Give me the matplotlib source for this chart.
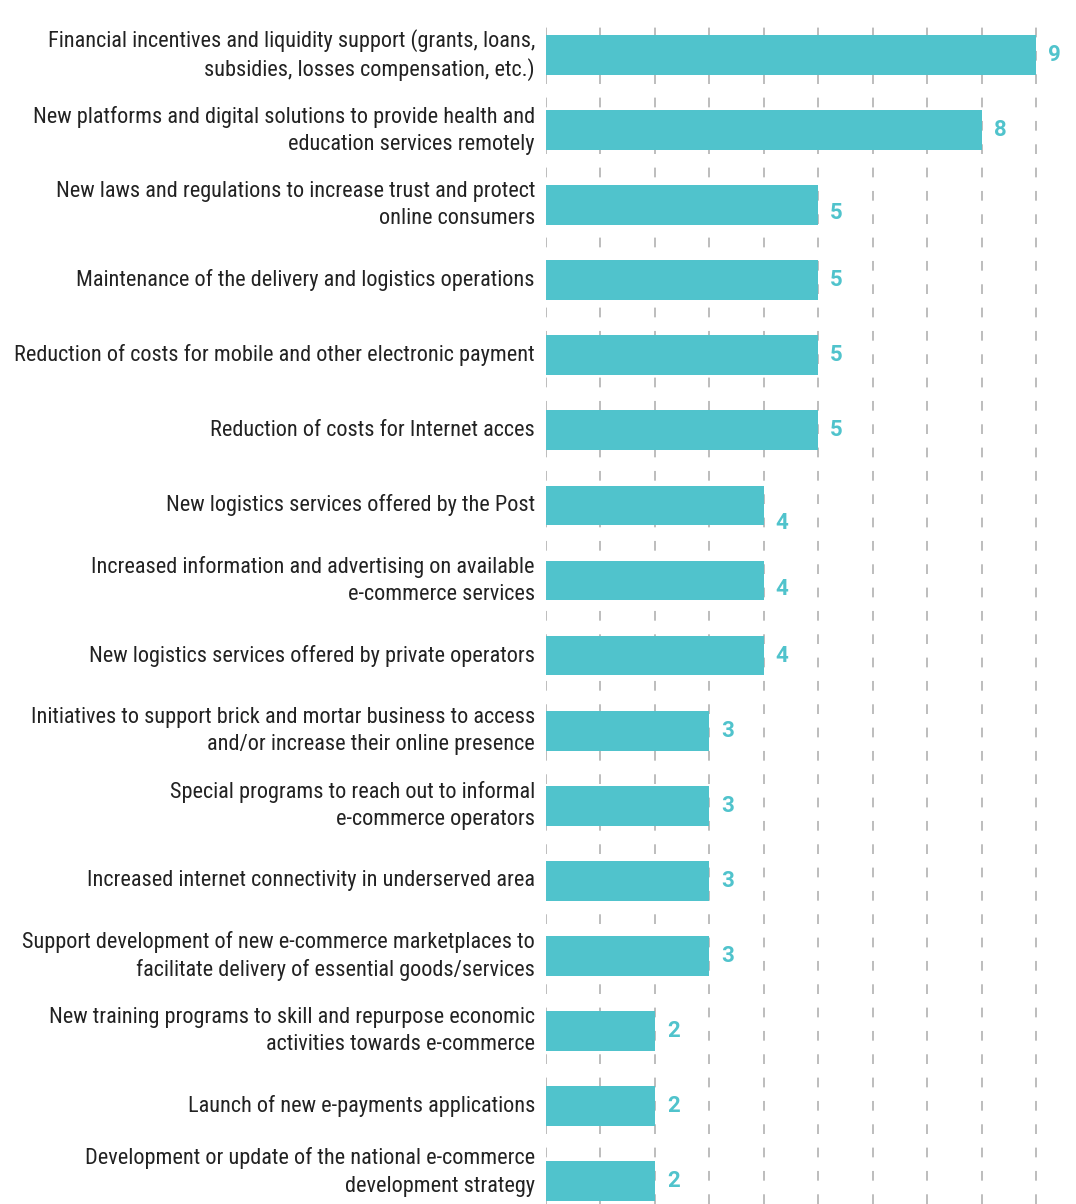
import matplotlib
matplotlib.use("Agg")
import matplotlib.pyplot as plt
import matplotlib.transforms as mtransforms
from matplotlib import font_manager as fm

categories = [
    "Financial incentives and liquidity support (grants, loans,\nsubsidies, losses compensation, etc.)",
    "New platforms and digital solutions to provide health and\neducation services remotely",
    "New laws and regulations to increase trust and protect\nonline consumers",
    "Maintenance of the delivery and logistics operations",
    "Reduction of costs for mobile and other electronic payment",
    "Reduction of costs for Internet acces",
    "New logistics services offered by the Post",
    "Increased information and advertising on available\ne-commerce services",
    "New logistics services offered by private operators",
    "Initiatives to support brick and mortar business to access\nand/or increase their online presence",
    "Special programs to reach out to informal\ne-commerce operators",
    "Increased internet connectivity in underserved area",
    "Support development of new e-commerce marketplaces to\nfacilitate delivery of essential goods/services",
    "New training programs to skill and repurpose economic\nactivities towards e-commerce",
    "Launch of new e-payments applications",
    "Development or update of the national e-commerce\ndevelopment strategy",
]
values = [9, 8, 5, 5, 5, 5, 4, 4, 4, 3, 3, 3, 3, 2, 2, 2]

available = {f.name for f in fm.fontManager.ttflist}
family = "DejaVu Sans"
for cand in ["Roboto Condensed", "Liberation Sans Narrow", "DejaVu Sans Condensed", "Arial Narrow", "Liberation Sans"]:
    if cand in available:
        family = cand
        break
num_family = "Roboto" if "Roboto" in available else family
plt.rcParams["font.family"] = [family, "DejaVu Sans"]

bar_color = "#50C3CC"
W, H = 1076, 1204
fig = plt.figure(figsize=(W / 100, H / 100), dpi=100)
ax = fig.add_axes([546 / W, 0, 1 - 546 / W, 1 - 17 / H])

ypos = list(range(len(values)))
ax.barh(ypos, values, height=0.53, color=bar_color, zorder=2)
ax.set_ylim(15.306, -0.506)
ax.set_xlim(0, 9.735)

ax.set_xticks(range(0, 10))
ax.xaxis.grid(True, linestyle=(0, (5, 7)), color="#BDBDBD", linewidth=1.4, zorder=0)
ax.set_axisbelow(True)
ax.tick_params(axis="x", length=0, labelbottom=False)
ax.set_yticks(ypos)
ax.set_yticklabels(categories, fontsize=16, color="#222222", linespacing=1.38, ha="right", va="center")
ax.tick_params(axis="y", length=0, pad=8)
for s in ax.spines.values():
    s.set_visible(False)
# last label sits slightly higher in the original (cropped at the bottom)
last = ax.get_yticklabels()[-1]
last.set_transform(last.get_transform() + mtransforms.ScaledTranslation(0, 9 / 100, fig.dpi_scale_trans))

label_dy = {2: -8, 6: -18, 7: -9}
for i, v in enumerate(values):
    ax.annotate(str(v), (v, i), xytext=(12, label_dy.get(i, 0)), textcoords="offset pixels",
                ha="left", va="center", fontsize=16, fontweight="bold", color=bar_color,
                family=[num_family, "DejaVu Sans"])

fig.savefig("out.png", dpi=100)
